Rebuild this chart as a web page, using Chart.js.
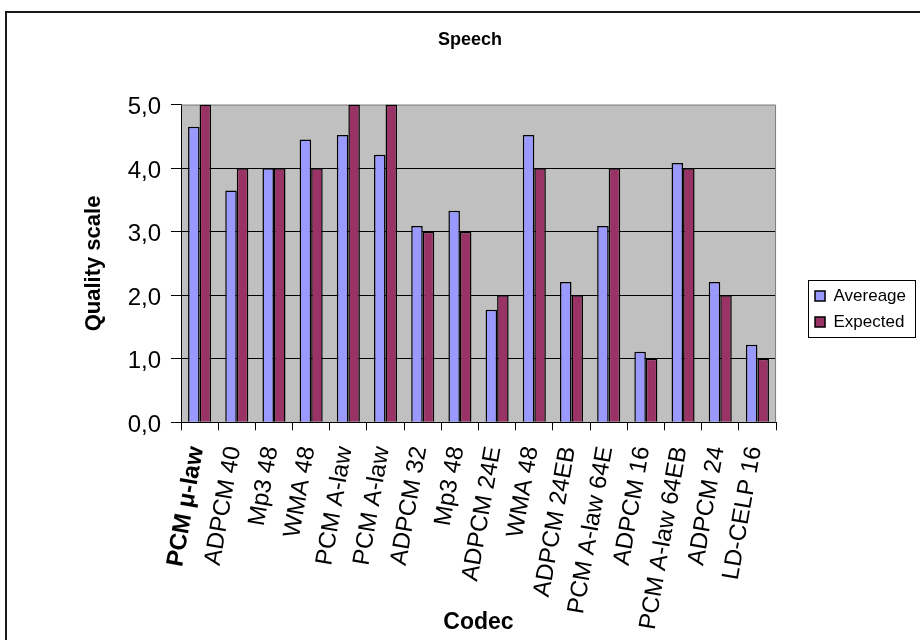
<!DOCTYPE html>
<html>
<head>
<meta charset="utf-8">
<script src="https://cdn.jsdelivr.net/npm/chart.js@4/dist/chart.umd.min.js"></script>
<style>
  html, body { margin: 0; padding: 0; background: #fff; overflow: hidden; }
  #wrap { width: 920px; height: 640px; position: relative; }
</style>
</head>
<body>
<div id="wrap"><canvas id="chart" width="920" height="640"></canvas></div>
<script>
// Codec names along the x axis
const categories = [
  'PCM μ-law', 'ADPCM 40', 'Mp3 48', 'WMA 48', 'PCM A-law', 'PCM A-law',
  'ADPCM 32', 'Mp3 48', 'ADPCM 24E', 'WMA 48', 'ADPCM 24EB', 'PCM A-law 64E',
  'ADPCM 16', 'PCM A-law 64EB', 'ADPCM 24', 'LD-CELP 16'
];
// Mean listener score per codec
const averageScores = [4.65, 3.65, 4.0, 4.45, 4.52, 4.21, 3.09, 3.33, 1.77, 4.52, 2.21, 3.09, 1.11, 4.08, 2.21, 1.22];
// Score expected for each codec
const expectedScores = [5, 4, 4, 4, 5, 5, 3, 3, 2, 4, 2, 4, 1, 4, 2, 1];
const seriesNames = ['Avereage', 'Expected'];
const yTickLabels = ['0,0', '1,0', '2,0', '3,0', '4,0', '5,0'];

Chart.defaults.font.family = "'Liberation Sans', Arial, sans-serif";
Chart.defaults.color = '#000';

// Grey plot background, grey top/right plot edges, boxed legend and outer frame
const plotFrame = {
  id: 'plotFrame',
  beforeDraw(chart) {
    const { ctx, chartArea: a } = chart;
    ctx.save();
    ctx.fillStyle = '#c0c0c0';
    ctx.fillRect(a.left, a.top, a.right - a.left, a.bottom - a.top);
    ctx.restore();
  },
  beforeDatasetsDraw(chart) {
    const { ctx, chartArea: a } = chart;
    ctx.save();
    ctx.strokeStyle = '#808080';
    ctx.lineWidth = 1;
    ctx.beginPath();
    ctx.moveTo(a.left, a.top + 0.5);
    ctx.lineTo(a.right - 0.5, a.top + 0.5);
    ctx.lineTo(a.right - 0.5, a.bottom);
    ctx.stroke();
    ctx.restore();
  },
  afterDraw(chart) {
    const { ctx } = chart;
    const boxes = chart.legend && chart.legend.legendHitBoxes;
    ctx.save();
    if (boxes && boxes.length) {
      const first = boxes[0];
      const last = boxes[boxes.length - 1];
      const right = Math.max(...boxes.map(b => b.left + b.width));
      const x0 = Math.round(first.left - 7) + 0.5;
      const y0 = Math.round(first.top - 8) + 0.5;
      const x1 = Math.round(right + 9) + 0.5;
      const y1 = Math.round(last.top + last.height + 6) + 0.5;
      ctx.strokeStyle = '#000';
      ctx.lineWidth = 1;
      ctx.strokeRect(x0, y0, x1 - x0, y1 - y0);
    }
    ctx.strokeStyle = '#1a1a1a';
    ctx.lineWidth = 2;
    ctx.strokeRect(6, 12, 1000, 1000);
    ctx.restore();
  }
};

new Chart(document.getElementById('chart'), {
  type: 'bar',
  data: {
    labels: categories,
    datasets: [
      {
        label: seriesNames[0],
        data: averageScores,
        backgroundColor: '#9999ff',
        borderColor: '#000000',
        borderWidth: 1.5
      },
      {
        label: seriesNames[1],
        data: expectedScores,
        backgroundColor: '#993366',
        borderColor: '#000000',
        borderWidth: 1.5
      }
    ]
  },
  options: {
    responsive: false,
    animation: false,
    devicePixelRatio: 1,
    categoryPercentage: 0.62,
    barPercentage: 1.0,
    layout: { padding: { left: 24, right: 4, top: -22, bottom: 0 } },
    plugins: {
      title: {
        display: true,
        text: 'Speech',
        color: '#000',
        font: { size: 18, weight: 'bold' },
        padding: { top: 51, bottom: 54 }
      },
      legend: {
        display: true,
        position: 'right',
        align: 'center',
        labels: {
          boxWidth: 10,
          boxHeight: 10,
          padding: 9,
          color: '#000',
          font: { size: 17 }
        }
      },
      tooltip: { enabled: false }
    },
    scales: {
      x: {
        type: 'category',
        offset: true,
        grid: {
          display: true,
          offset: true,
          drawOnChartArea: false,
          drawTicks: true,
          tickLength: 8,
          color: '#000',
          tickColor: '#000'
        },
        border: { display: true, color: '#000', width: 1 },
        ticks: {
          autoSkip: false,
          minRotation: 80,
          maxRotation: 80,
          padding: 14,
          labelOffset: -3,
          color: '#000',
          font: (ctx) => (ctx.index === 0 ? { size: 24, weight: 'bold' } : { size: 24 })
        },
        title: {
          display: true,
          text: 'Codec',
          color: '#000',
          font: { size: 23, weight: 'bold' },
          padding: { top: 0, bottom: 4 }
        },
        afterFit(scale) { scale.height = 217.7; }
      },
      y: {
        min: 0,
        max: 5,
        position: 'left',
        grid: {
          color: (ctx) => (ctx.tick && ctx.tick.value === 5 ? 'rgba(0,0,0,0)' : '#000'),
          tickColor: '#000',
          tickLength: 10,
          lineWidth: 1
        },
        border: { display: true, color: '#000', width: 1 },
        ticks: {
          stepSize: 1,
          padding: 10,
          labelOffset: 3,
          color: '#000',
          font: { size: 24 },
          callback: (value) => yTickLabels[Math.round(value)]
        },
        title: {
          display: true,
          text: 'Quality scale',
          color: '#000',
          font: { size: 22, weight: 'bold' },
          padding: { top: 57, bottom: 0 }
        },
        afterFit(scale) { scale.width = 157; }
      },
      gap: {
        type: 'linear',
        position: 'right',
        display: true,
        grid: { display: false, drawTicks: false },
        border: { display: false },
        ticks: { display: false },
        afterFit(scale) { scale.width = 30; }
      }
    }
  },
  plugins: [plotFrame]
});
</script>
</body>
</html>
